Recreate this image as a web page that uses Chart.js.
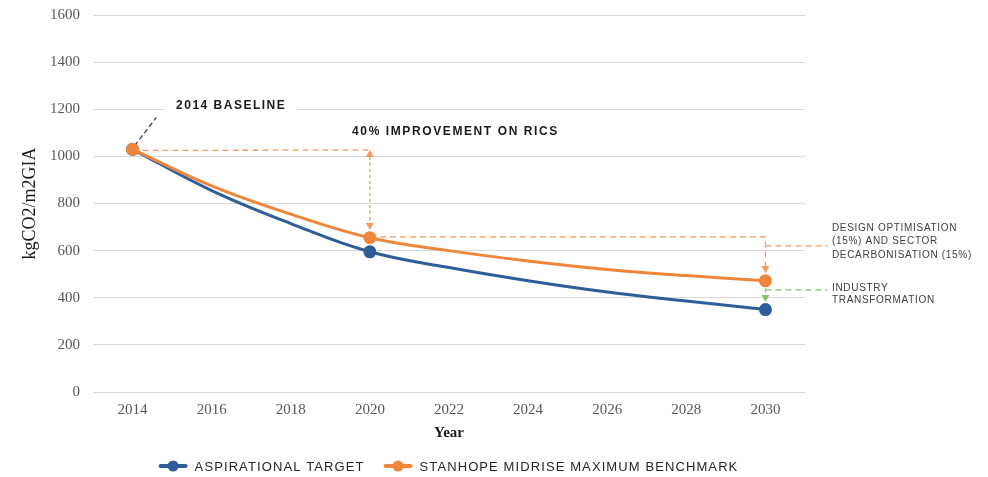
<!DOCTYPE html>
<html>
<head>
<meta charset="utf-8">
<script src="https://cdn.jsdelivr.net/npm/chart.js@4.4.1/dist/chart.umd.min.js"></script>
<style>
  html, body { margin: 0; padding: 0; background: #fff; }
  #wrap { width: 988px; height: 477px; position: relative; }
</style>
</head>
<body>
<div id="wrap"><canvas id="chart"></canvas></div>
<script>
// data (curve read every two years, markers on key years)
const years = [2014, 2016, 2018, 2020, 2022, 2024, 2026, 2028, 2030];
const markerYears = [2014, 2020, 2030];
const aspirational = [1030, 855, 715, 595, 528, 472, 424, 386, 350];
const benchmark = [1030, 875, 755, 655, 600, 556, 520, 494, 472];
const seriesLabels = ['ASPIRATIONAL TARGET', 'STANHOPE MIDRISE MAXIMUM BENCHMARK'];
const seriesColors = ['#2f5d9a', '#f0863c'];

const sans = '"Liberation Sans", Arial, sans-serif';
const serif = '"Liberation Serif", "Times New Roman", serif';

function dashed(ctx, pts, color, pattern) {
  ctx.save();
  ctx.strokeStyle = color;
  ctx.lineWidth = 1.3;
  ctx.setLineDash(pattern || [6, 4]);
  ctx.beginPath();
  ctx.moveTo(pts[0][0], pts[0][1]);
  for (let i = 1; i < pts.length; i++) ctx.lineTo(pts[i][0], pts[i][1]);
  ctx.stroke();
  ctx.restore();
}

function arrowHead(ctx, x, y, dir, color) {
  // tip at (x, y); dir = 1 points down, -1 points up
  ctx.save();
  ctx.fillStyle = color;
  ctx.beginPath();
  ctx.moveTo(x, y);
  ctx.lineTo(x - 4, y - dir * 7);
  ctx.lineTo(x + 4, y - dir * 7);
  ctx.closePath();
  ctx.fill();
  ctx.restore();
}

function spacedText(ctx, text, x, y, font, color, spacing) {
  ctx.save();
  ctx.font = font;
  ctx.fillStyle = color;
  ctx.letterSpacing = spacing;
  ctx.textAlign = 'left';
  ctx.textBaseline = 'middle';
  ctx.fillText(text, x, y);
  ctx.restore();
}

const notes = {
  id: 'notes',
  beforeDatasetsDraw(chart) {
    const ctx = chart.ctx;
    const X = v => chart.scales.x.getPixelForValue(v);
    const Y = v => chart.scales.y.getPixelForValue(v);
    const orange = '#f39a5c';
    const green = '#80c46c';

    // 2014 baseline leader + label
    dashed(ctx, [[X(2014) + 2, Y(1045)], [X(2014.6), Y(1165)]], '#444', [5, 3]);
    ctx.save();
    ctx.font = 'bold 12px ' + sans;
    ctx.letterSpacing = '1.5px';
    const bw = ctx.measureText('2014 BASELINE').width;
    ctx.restore();
    ctx.fillStyle = '#fff';
    ctx.fillRect(X(2015.1) - 11, Y(1214) - 9, bw + 22, 18);
    spacedText(ctx, '2014 BASELINE', X(2015.1), Y(1214), 'bold 12px ' + sans, '#1a1a1a', '1.5px');

    // 40% improvement on RICS
    dashed(ctx, [[X(2014), Y(1025)], [X(2020), Y(1027)]], orange);
    dashed(ctx, [[X(2020), Y(1027) + 7], [X(2020), Y(688) - 7]], orange, [3, 3]);
    arrowHead(ctx, X(2020), Y(1027), -1, orange);
    arrowHead(ctx, X(2020), Y(688), 1, orange);
    spacedText(ctx, '40% IMPROVEMENT ON RICS', X(2019.55), Y(1104), 'bold 12px ' + sans, '#1a1a1a', '1.6px');

    // design optimisation + sector decarbonisation
    dashed(ctx, [[X(2020), Y(658)], [X(2030), Y(658)], [X(2030), Y(505) - 7]], orange);
    arrowHead(ctx, X(2030), Y(505), 1, orange);
    dashed(ctx, [[X(2030), Y(620)], [X(2031.57), Y(620)]], orange);
    const tx = X(2031.68);
    const f = '10px ' + sans;
    spacedText(ctx, 'DESIGN OPTIMISATION', tx, Y(620) - 18, f, '#404040', '0.7px');
    spacedText(ctx, '(15%) AND SECTOR', tx, Y(620) - 4.5, f, '#404040', '0.7px');
    spacedText(ctx, 'DECARBONISATION (15%)', tx, Y(620) + 9, f, '#404040', '0.7px');

    // industry transformation
    dashed(ctx, [[X(2030), Y(470)], [X(2030), Y(382) - 7]], green, [4, 3]);
    arrowHead(ctx, X(2030), Y(382), 1, green);
    dashed(ctx, [[X(2030), Y(433)], [X(2031.57), Y(433)]], green);
    spacedText(ctx, 'INDUSTRY', tx, Y(433) - 2, f, '#404040', '0.7px');
    spacedText(ctx, 'TRANSFORMATION', tx, Y(433) + 10.5, f, '#404040', '0.7px');
  },
  afterDraw(chart) {
    // legend: line + dot markers with letter-spaced labels
    const ctx = chart.ctx;
    const area = chart.chartArea;
    const cx = (area.left + area.right) / 2;
    const y = 466;
    ctx.save();
    ctx.font = '13px ' + sans;
    ctx.letterSpacing = '1.1px';
    const items = chart.data.datasets.map(ds => ({
      label: ds.label, color: ds.borderColor, w: ctx.measureText(ds.label).width
    }));
    const markerW = 27, gap = 8, itemGap = 20;
    const total = items.reduce((s, it) => s + markerW + gap + it.w, 0) + itemGap * (items.length - 1);
    let x = cx - total / 2;
    items.forEach(it => {
      ctx.strokeStyle = it.color;
      ctx.lineWidth = 4;
      ctx.lineCap = 'round';
      ctx.beginPath();
      ctx.moveTo(x + 1, y);
      ctx.lineTo(x + markerW - 1, y);
      ctx.stroke();
      ctx.fillStyle = it.color;
      ctx.beginPath();
      ctx.arc(x + markerW / 2, y, 5.5, 0, Math.PI * 2);
      ctx.fill();
      ctx.fillStyle = '#262626';
      ctx.textBaseline = 'middle';
      ctx.fillText(it.label, x + markerW + gap, y + 1);
      x += markerW + gap + it.w + itemGap;
    });
    ctx.restore();
  }
};

const markerRadius = c => markerYears.includes(years[c.dataIndex]) ? 6.5 : 0;

const ctx = document.getElementById('chart').getContext('2d');
const chart = new Chart(ctx, {
  type: 'line',
  data: {
    datasets: [
      {
        label: seriesLabels[0],
        data: years.map((yr, i) => ({ x: yr, y: aspirational[i] })),
        borderColor: seriesColors[0],
        backgroundColor: seriesColors[0],
        borderWidth: 3,
        pointRadius: markerRadius,
        pointBorderWidth: 0,
        tension: 0.4,
        order: 1
      },
      {
        label: seriesLabels[1],
        data: years.map((yr, i) => ({ x: yr, y: benchmark[i] })),
        borderColor: seriesColors[1],
        backgroundColor: seriesColors[1],
        borderWidth: 3,
        pointRadius: markerRadius,
        pointBorderWidth: 0,
        tension: 0.4,
        order: 0
      }
    ]
  },
  options: {
    responsive: true,
    maintainAspectRatio: false,
    animation: false,
    layout: { padding: { top: 15, right: 183, bottom: 35, left: 0 } },
    plugins: {
      legend: { display: false },
      tooltip: { enabled: false }
    },
    scales: {
      x: {
        type: 'linear',
        min: 2013,
        max: 2031,
        afterBuildTicks: scale => { scale.ticks = years.map(v => ({ value: v })); },
        afterFit: scale => { scale.height = 50; scale.paddingLeft = 0; scale.paddingRight = 0; },
        grid: { display: false },
        border: { display: false },
        ticks: {
          padding: 1,
          color: '#595959',
          font: { family: serif, size: 15 },
          callback: v => String(v)
        },
        title: {
          display: true,
          text: 'Year',
          color: '#1a1a1a',
          font: { family: serif, size: 15, weight: 'bold' },
          padding: { top: 0, bottom: 0 }
        }
      },
      y: {
        min: 0,
        max: 1600,
        afterFit: scale => { scale.width = 93; scale.paddingTop = 0; scale.paddingBottom = 0; },
        grid: { color: '#d9d9d9', lineWidth: 1, drawTicks: false },
        border: { display: false },
        ticks: {
          stepSize: 200,
          padding: 13,
          color: '#595959',
          font: { family: serif, size: 15 },
          callback: v => String(v)
        },
        title: {
          display: true,
          text: 'kgCO2/m2GIA',
          color: '#1a1a1a',
          font: { family: serif, size: 18 },
          padding: { top: 19, bottom: 0 }
        }
      }
    }
  },
  plugins: [notes]
});
</script>
</body>
</html>
